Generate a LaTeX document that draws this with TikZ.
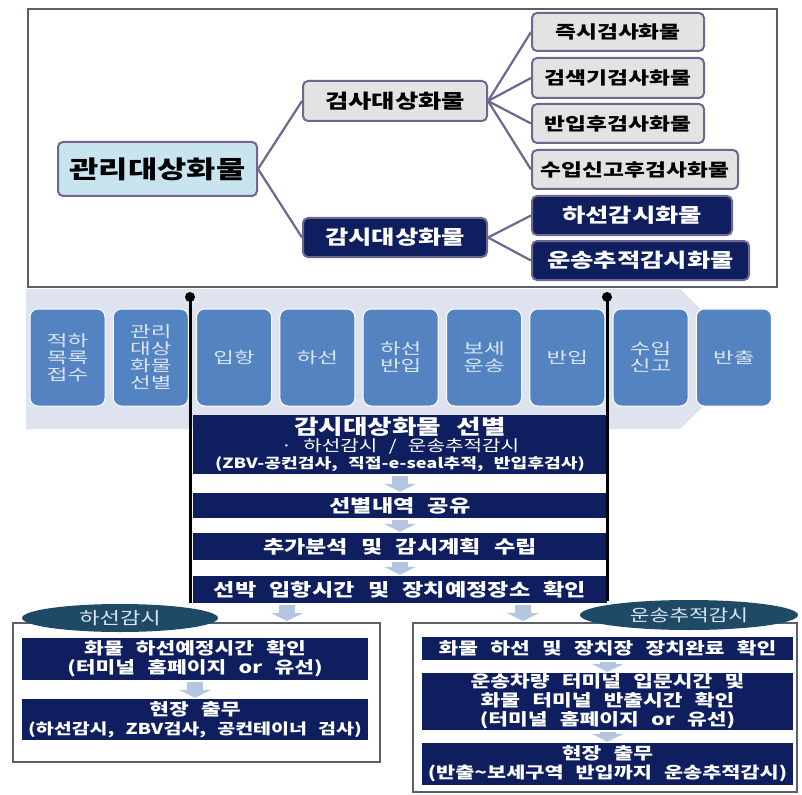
\documentclass[tikz,border=0pt]{standalone}
\usepackage{fontspec}
\setmainfont{Noto Sans CJK KR}[FakeStretch=1.3,WordSpace=2.5]
\newfontfamily\wideko{Noto Sans CJK KR}[FakeStretch=1.45]
\usetikzlibrary{arrows.meta,shapes.geometric}
\definecolor{navyfill}{HTML}{0F1E5F}
\definecolor{edgepurple}{HTML}{6F6790}
\definecolor{rootblue}{HTML}{C8E5EF}
\definecolor{grayfill}{HTML}{E3E3E3}
\definecolor{stepblue}{HTML}{5383C0}
\definecolor{steptext}{HTML}{DCE6F2}
\definecolor{bandpale}{HTML}{DEE3EF}
\definecolor{ovalteal}{HTML}{1E4A66}
\definecolor{arrowpale}{HTML}{B4C5E2}
\definecolor{framegray}{HTML}{5A5F6A}

\begin{document}
\begin{tikzpicture}[x=1pt,y=-1pt,
    framebox/.style ={draw=framegray, line width=2pt, fill=white},
    rootbox/.style ={draw=edgepurple, line width=2pt, rounded corners=5pt, fill=rootblue,
      inner sep=0pt, font=\fontsize{24.5}{28}\selectfont\bfseries},
    graybox/.style ={draw=edgepurple, line width=2pt, rounded corners=5pt, fill=grayfill,
      inner sep=0pt, font=\fontsize{17.5}{20}\selectfont\bfseries},
    navybox/.style ={draw=edgepurple, line width=2pt, rounded corners=5pt, fill=navyfill,
      text=white, inner sep=0pt, font=\fontsize{19.5}{22}\selectfont\bfseries},
    linkline/.style ={draw=edgepurple, line width=2.2pt},
    stepbox/.style ={draw=white, line width=1pt, rounded corners=8pt, fill=stepblue, text=steptext,
      minimum width=75pt, minimum height=97pt, inner sep=0pt, align=center,
      font=\wideko\fontsize{15.5}{17}\selectfont},
    stackbox/.style ={fill=navyfill, text=white, inner sep=0pt, align=center,
      font=\fontsize{17.8}{20}\selectfont\bfseries},
    checkbox/.style ={fill=navyfill, text=white, inner sep=0pt, align=center,
      font=\fontsize{16.5}{19}\selectfont\bfseries},
    blockarrow/.style ={draw=arrowpale, line width=16pt, -{Triangle[length=8pt,width=32pt]},
      shorten <=2pt, shorten >=1pt},
    oval/.style ={ellipse, fill=ovalteal, text=steptext, inner sep=0pt,
      font=\fontsize{17}{20}\selectfont},
    pinline/.style ={line width=3pt, black}]

   \useasboundingbox (0,0) rectangle (802,794);

   \fill[bandpale] (26,289) -- (680,289) -- (752,359) -- (680,429) -- (26,429) -- cycle;
   \draw[framebox] (28,9) rectangle (777,287);

   \node[rootbox, minimum width=199pt, minimum height=54pt] (root) at (157.5,169) {관리대상화물};
   \node[graybox, minimum width=184pt, minimum height=40pt,
     font=\fontsize{19.5}{22}\selectfont\bfseries] (insp) at (395,101) {검사대상화물};
   \node[navybox, minimum width=184pt, minimum height=39pt] (watch) at (395,237.5) {감시대상화물};

   \node[graybox, minimum width=172pt, minimum height=38pt] (insA) at (618,32) {즉시검사화물};
   \node[graybox, minimum width=172pt, minimum height=40pt] (insB) at (618,78) {검색기검사화물};
   \node[graybox, minimum width=172pt, minimum height=39pt] (insC) at (618,123.5) {반입후검사화물};
   \node[graybox, minimum width=206pt, minimum height=39pt] (insD) at (635,169.5) {수입신고후검사화물};
   \node[navybox, minimum width=200pt, minimum height=39pt] (watA) at (632,215.5) {하선감시화물};
   \node[navybox, minimum width=217pt, minimum height=39pt] (watB) at (640.5,260.5) {운송추적감시화물};

   \draw[linkline] (root.east) -- (insp.west);
   \draw[linkline] (root.east) -- (watch.west);
   \draw[linkline] (insp.east) -- (insA.west);
   \draw[linkline] (insp.east) -- (insB.west);
   \draw[linkline] (insp.east) -- (insC.west);
   \draw[linkline] (insp.east) -- (insD.west);
   \draw[linkline] (watch.east) -- (watA.west);
   \draw[linkline] (watch.east) -- (watB.west);

   \node[stepbox] (p1) at (67.5,357.5) {적하\\목록\\접수};
   \node[stepbox] (p2) at (150.8,357.5) {관리\\대상\\화물\\선별};
   \node[stepbox] (p3) at (234.1,357.5) {입항};
   \node[stepbox] (p4) at (317.4,357.5) {하선};
   \node[stepbox] (p5) at (400.7,357.5) {하선\\반입};
   \node[stepbox] (p6) at (484,357.5) {보세\\운송};
   \node[stepbox] (p7) at (567.3,357.5) {반입};
   \node[stepbox] (p8) at (650.6,357.5) {수입\\신고};
   \node[stepbox] (p9) at (733.9,357.5) {반출};

   \node[stackbox, minimum width=414pt, minimum height=59pt] (s1) at (400,444.5)
     {{\fontsize{20.5}{22}\selectfont 감시대상화물 선별}\\[-3pt]
      {\fontsize{15.5}{17}\selectfont\mdseries · 하선감시 / 운송추적감시}\\[-3pt]
      {\fontsize{14}{16}\selectfont (ZBV-공컨검사, 직접-e-seal추적, 반입후검사)}};
   \node[stackbox, minimum width=414pt, minimum height=25pt] (s2) at (400,505.5) {선별내역 공유};
   \node[stackbox, minimum width=414pt, minimum height=27pt] (s3) at (400,546.5) {추가분석 및 감시계획 수립};
   \node[stackbox, minimum width=414pt, minimum height=27pt] (s4) at (400,589.5) {선박 입항시간 및 장치예정장소 확인};

   \draw[blockarrow] (s1.south) -- (s2.north);
   \draw[blockarrow] (s2.south) -- (s3.north);
   \draw[blockarrow] (s3.south) -- (s4.north);

   \coordinate (pinLtop) at (190,297);
   \coordinate (pinLbot) at (190,603);
   \coordinate (pinRtop) at (607,297);
   \coordinate (pinRbot) at (607,601);
   \draw[pinline] (pinLtop) -- (pinLbot);
   \draw[pinline] (pinRtop) -- (pinRbot);
   \fill (pinLtop) circle (5);
   \fill (pinRtop) circle (5);

   \node[framebox, minimum width=367pt, minimum height=139pt] (lframe) at (196.5,692.5) {};
   \node[framebox, minimum width=384pt, minimum height=169pt] (rframe) at (605,707.5) {};

   \draw[blockarrow] (s4.south -| 287,0) -- (lframe.north -| 287,0);
   \draw[blockarrow] (s4.south -| 523,0) -- (rframe.north -| 523,0);

   \node[oval, minimum width=196pt, minimum height=28pt] (ovL) at (120,618) {하선감시};
   \node[oval, minimum width=218pt, minimum height=30pt, font=\fontsize{16.5}{19}\selectfont] (ovR) at (689,615) {운송추적감시};

   \node[checkbox, minimum width=346pt, minimum height=42pt] (lA) at (195,659)
     {화물 하선예정시간 확인\\(터미널 홈페이지 or 유선)};
   \node[checkbox, minimum width=346pt, minimum height=41pt] (lB) at (195,719.5)
     {현장 출무\\{\fontsize{15}{18}\selectfont (하선감시, ZBV검사, 공컨테이너 검사)}};
   \draw[blockarrow] (lA.south) -- (lB.north);

   \node[checkbox, minimum width=371pt, minimum height=23pt] (rA) at (607.5,648.5)
     {화물 하선 및 장치장 장치완료 확인};
   \node[checkbox, minimum width=371pt, minimum height=57pt] (rB) at (607.5,701.5)
     {운송차량 터미널 입문시간 및\\화물 터미널 반출시간 확인\\(터미널 홈페이지 or 유선)};
   \node[checkbox, minimum width=371pt, minimum height=42pt] (rC) at (607.5,764)
     {현장 출무\\{\fontsize{16}{19}\selectfont (반출\textasciitilde 보세구역 반입까지 운송추적감시)}};
   \draw[blockarrow] (rA.south) -- (rB.north);
   \draw[blockarrow] (rB.south) -- (rC.north);
 \end{tikzpicture}
\end{document}
